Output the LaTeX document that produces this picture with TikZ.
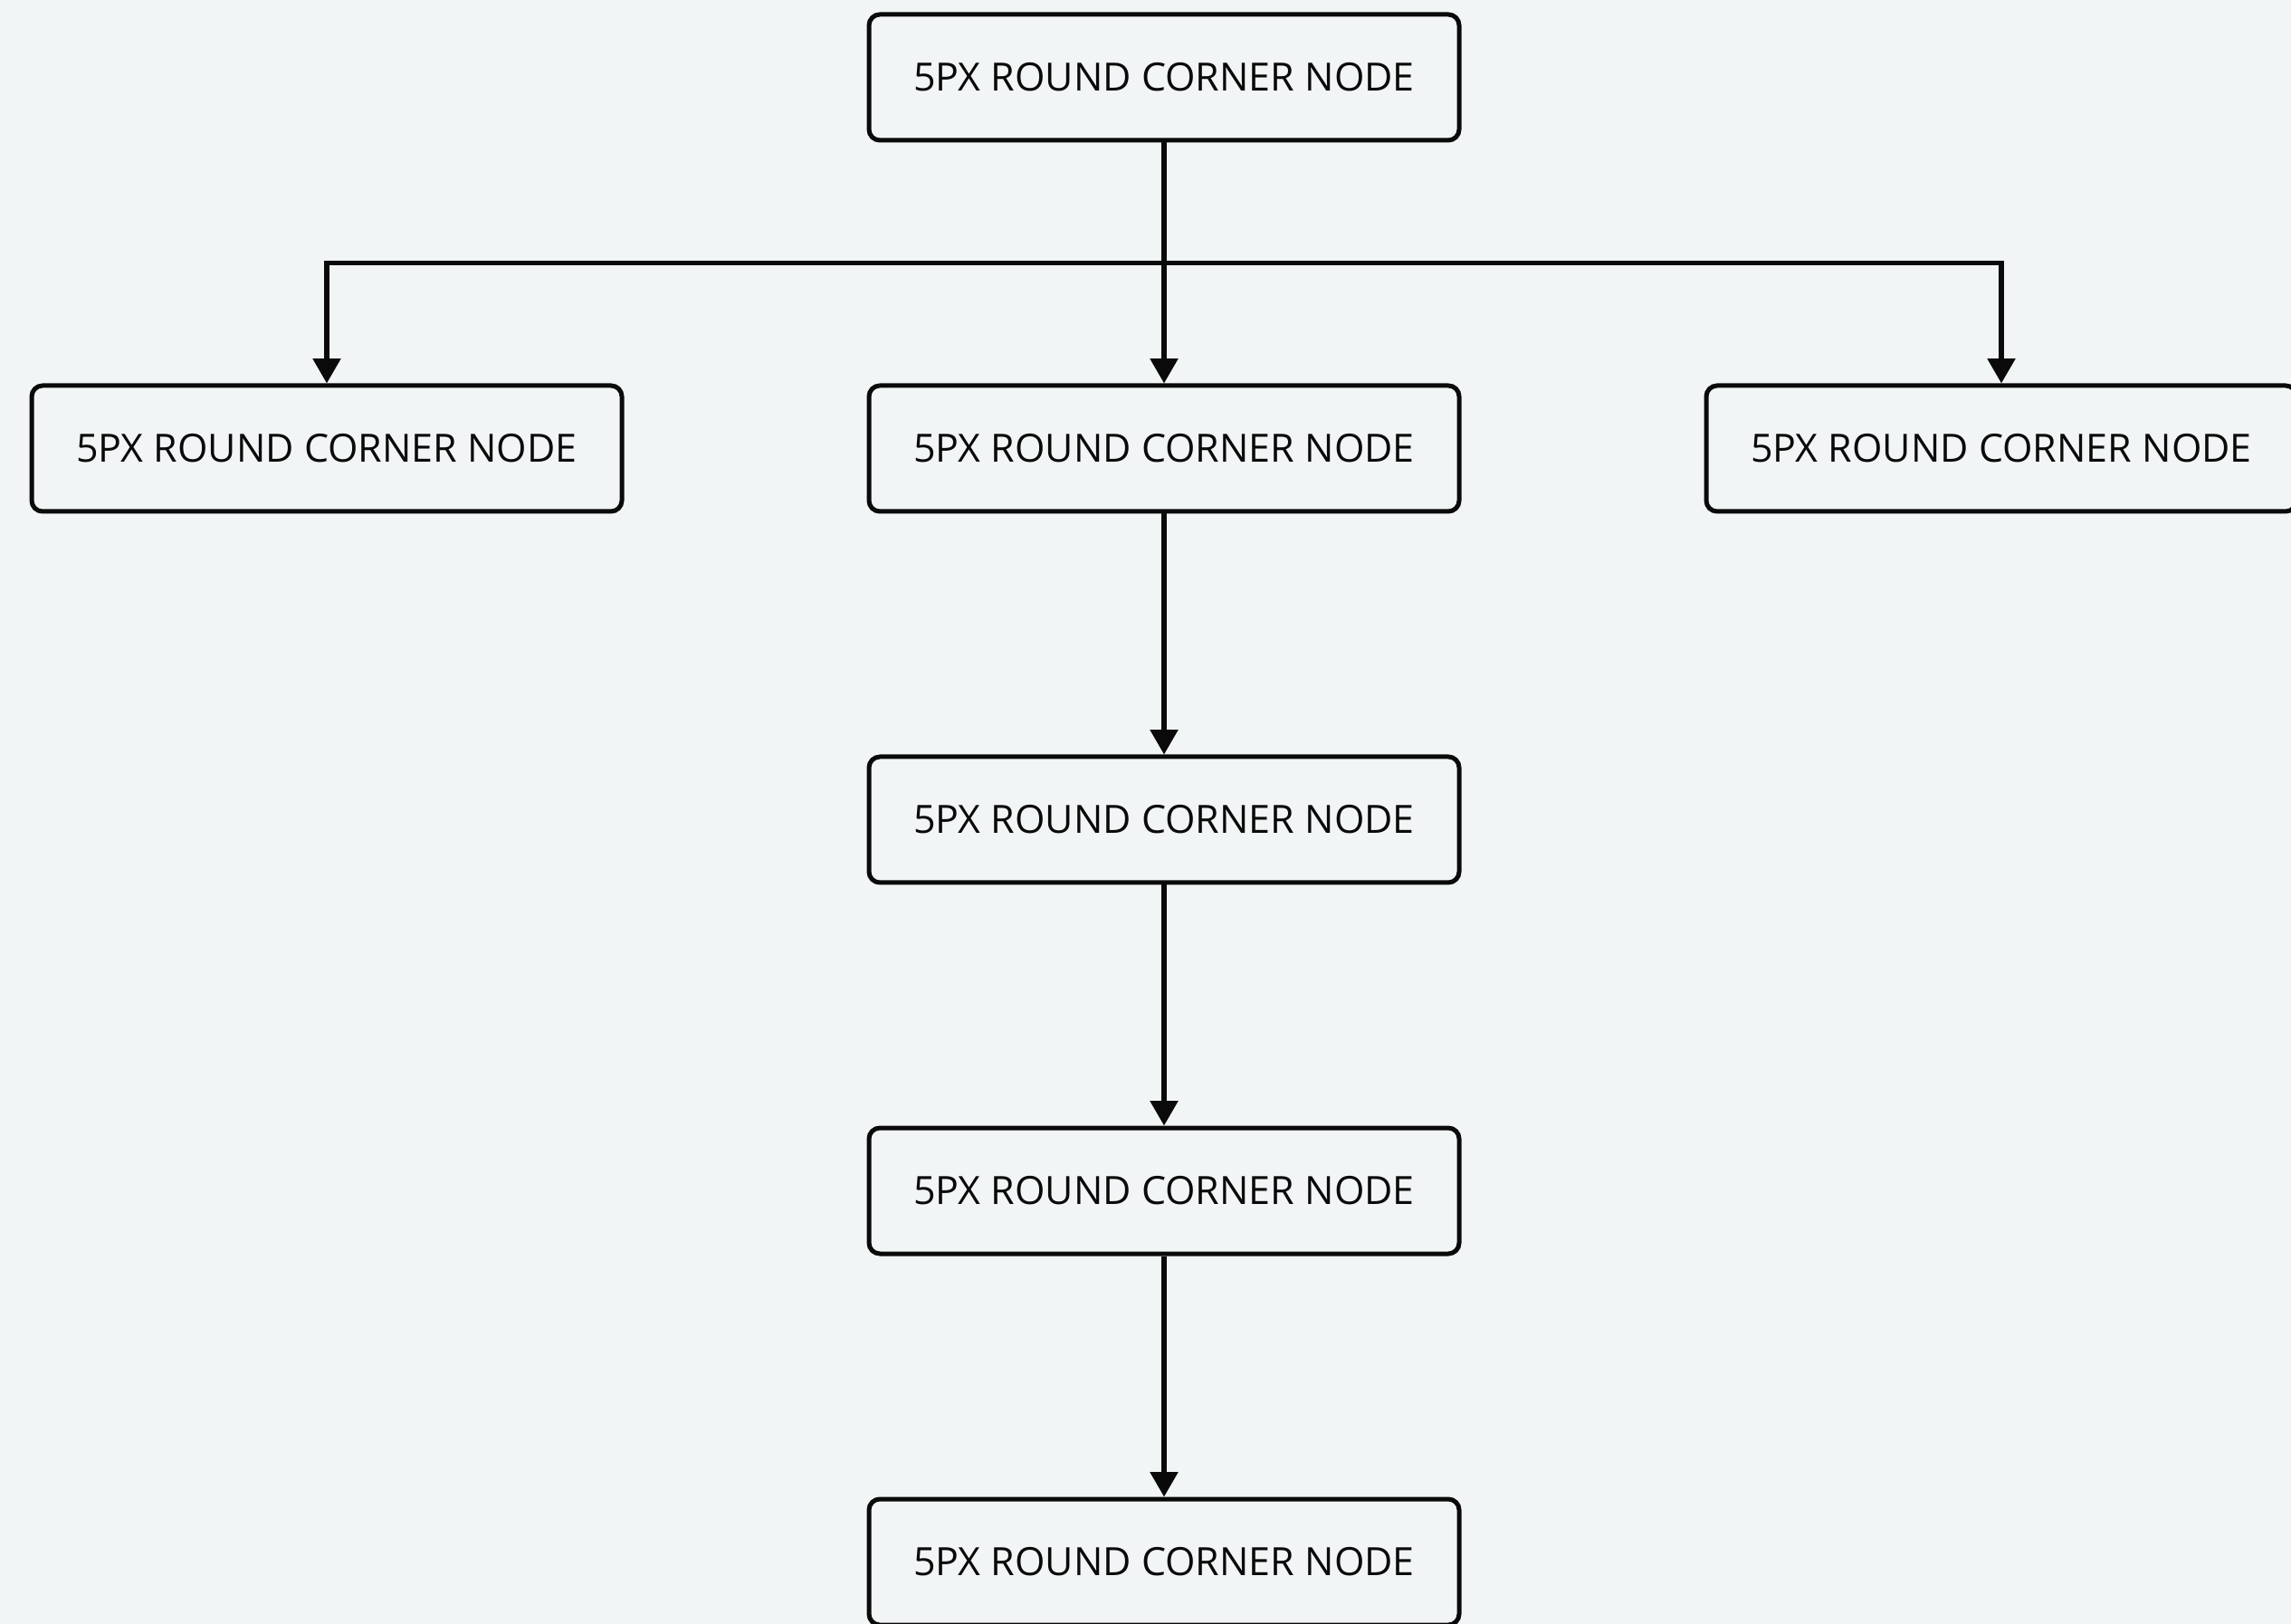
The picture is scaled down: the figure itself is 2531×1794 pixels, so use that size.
\documentclass[tikz,border=0pt]{standalone}
\usepackage{fontspec}
\setmainfont{Open Sans}
\usetikzlibrary{arrows.meta}
\definecolor{bgc}{HTML}{F2F5F6}
\definecolor{inkc}{HTML}{0A0A0A}
\tikzset{
  rcnode/.style={draw=inkc, line width=1.5pt, rounded corners=3.6pt, fill=bgc,
    minimum width=195.6pt, minimum height=41.7pt, inner sep=0pt,
    font=\fontsize{12.9pt}{15pt}\selectfont, text=inkc},
  arr/.style={draw=inkc, line width=1.55pt, -{Triangle[width=9pt,length=8.2pt]}}
}
\begin{document}
\begin{tikzpicture}[x=0.3pt,y=-0.3pt]
\fill[bgc] (0,0) rectangle (2531,1794);
\useasboundingbox (0,0) rectangle (2531,1794);
\clip (0,0) rectangle (2531,1794);
\node[rcnode] (top) at (1286,85.5) {5PX ROUND CORNER NODE};
\node[rcnode] (l2) at (361,495.5) {5PX ROUND CORNER NODE};
\node[rcnode] (m2) at (1286,495.5) {5PX ROUND CORNER NODE};
\node[rcnode] (r2) at (2211,495.5) {5PX ROUND CORNER NODE};
\node[rcnode] (m3) at (1286,905.5) {5PX ROUND CORNER NODE};
\node[rcnode] (m4) at (1286,1315.5) {5PX ROUND CORNER NODE};
\node[rcnode] (m5) at (1286,1725.5) {5PX ROUND CORNER NODE};
\coordinate (bj) at (1286,290.5);
\draw[arr] (top.south) -- (m2.north);
\draw[arr] (bj) -| (l2.north);
\draw[arr] (bj) -| (r2.north);
\draw[arr] (m2.south) -- (m3.north);
\draw[arr] (m3.south) -- (m4.north);
\draw[arr] (m4.south) -- (m5.north);
\end{tikzpicture}
\end{document}
